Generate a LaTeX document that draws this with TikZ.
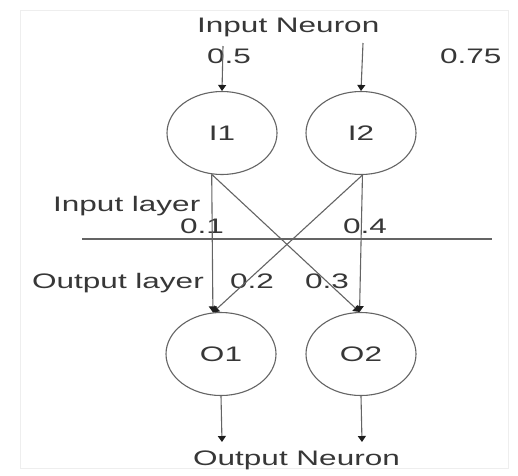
\documentclass[tikz,border=0pt]{standalone}
\usepackage{fontspec}
\setmainfont[FakeStretch=1.5]{Liberation Sans}
\usetikzlibrary{arrows.meta,shapes.geometric}
\definecolor{txtc}{RGB}{55,55,55}
\definecolor{linec}{RGB}{100,100,100}
\definecolor{headc}{RGB}{30,30,30}
\definecolor{framec}{RGB}{238,238,238}
\tikzset{
  neuron/.style={draw=linec, line width=1.1pt, ellipse, minimum width=110pt, minimum height=83pt, inner sep=0pt, text=txtc, font=\fontsize{21}{24}\selectfont},
  lbl/.style={anchor=base west, inner sep=0pt, text=txtc, font=\fontsize{21}{24}\selectfont},
  conn/.style={draw=linec, line width=1.1pt},
  arr/.style={conn, -{Triangle[length=6pt,width=8pt,color=headc]}},
}
\begin{document}
\begin{tikzpicture}[x=1pt,y=-1pt]
\useasboundingbox (0,0) rectangle (518,475);
\fill[white] (0,0) rectangle (518,475);
\draw[framec, line width=1pt] (20,10) rectangle (508,468);
% neurons
\node[neuron] (I1) at (222,133) {I1};
\node[neuron] (I2) at (361,133) {I2};
\node[neuron] (O1) at (221,354) {O1};
\node[neuron] (O2) at (361,354) {O2};
% free ends
\coordinate (in1) at (223,46);
\coordinate (in2) at (363,43);
\coordinate (out1) at (222,442);
\coordinate (out2) at (362,442);
\coordinate (hl) at (82,239);
\coordinate (hr) at (492,239);
% labels
\node[lbl] (tin) at (197,32) {Input Neuron};
\node[lbl] (v05) at (207,63) {0.5};
\node[lbl] (v075) at (440,63) {0.75};
\node[lbl] (til) at (53,211) {Input layer};
\node[lbl] (v01) at (180,233) {0.1};
\node[lbl] (v04) at (343,233) {0.4};
\node[lbl] (tol) at (32,288) {Output layer};
\node[lbl] (v02) at (230,288) {0.2};
\node[lbl] (v03) at (305,288) {0.3};
\node[lbl] (ton) at (193,465) {Output Neuron};
% connectors
\draw[arr] (in1) -- (I1.north);
\draw[arr] (in2) -- (I2.north);
\draw[conn] (hl) -- (hr);
\draw[arr] (I1.256) -- (O1.101);
\draw[arr] (I1.256) -- (O2.92);
\draw[arr] (I2.272) -- (O1.101);
\draw[arr] (I2.272) -- (O2.92);
\draw[arr] (O1.south) -- (out1);
\draw[arr] (O2.south) -- (out2);
\end{tikzpicture}
\end{document}
